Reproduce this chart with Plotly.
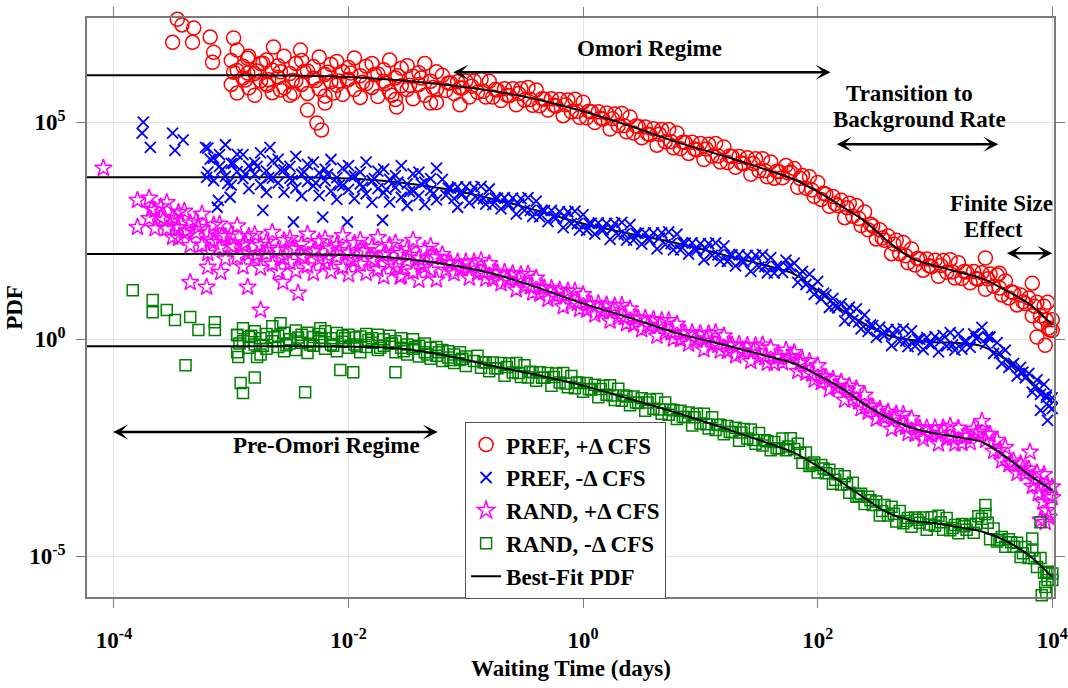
import plotly.graph_objects as go

SERIF = "Liberation Serif"

# decade exponents that carry tick labels
x_tick_exponents = [-4, -2, 0, 2, 4]
y_tick_exponents = [-5, 0, 5]

# best-fit PDFs: log10(waiting time, days) -> log10(PDF)
fit_logt = [-4.23, -3.0, -2.4, -2.0, -1.6, -1.2, -0.8, -0.4, 0.0, 0.4, 0.8, 1.2, 1.6,
            1.8, 2.0, 2.2, 2.4, 2.6, 2.8, 3.0, 3.2, 3.4, 3.6, 3.8, 4.0]
fit_pref_pos = [6.08, 6.08, 6.07, 6.04, 5.97, 5.87, 5.73, 5.53, 5.25, 4.91, 4.54, 4.22, 3.87,
                3.68, 3.40, 3.07, 2.72, 2.25, 1.87, 1.69, 1.55, 1.40, 1.13, 0.82, 0.33]
fit_pref_neg = [3.73, 3.73, 3.73, 3.70, 3.62, 3.47, 3.25, 2.97, 2.66, 2.43, 2.21, 1.94, 1.67,
                1.50, 1.12, 0.69, 0.35, 0.09, -0.02, -0.07, -0.09, -0.16, -0.46, -0.92, -1.47]
fit_rand_pos = [1.96, 1.96, 1.96, 1.94, 1.87, 1.74, 1.53, 1.20, 0.82, 0.49, 0.14, -0.13, -0.41,
                -0.56, -0.82, -1.12, -1.50, -1.81, -2.04, -2.17, -2.26, -2.37, -2.70, -3.12, -3.48]
fit_rand_neg = [-0.16, -0.16, -0.16, -0.17, -0.21, -0.36, -0.60, -0.82, -1.07, -1.38, -1.70, -2.05, -2.42,
                -2.62, -2.93, -3.29, -3.66, -4.00, -4.18, -4.24, -4.33, -4.43, -4.64, -4.98, -5.48]

# empirical PDFs, (log10 t, log10 PDF)
pref_pos_sparse = [
    (-3.52, 7.42), (-3.46, 7.37), (-3.42, 7.24), (-3.50, 6.84), (-3.33, 6.84), (-3.32, 7.17),
    (-3.18, 6.96), (-3.15, 6.61), (-3.16, 6.38), (-2.98, 6.94), (-2.95, 6.66), (-2.86, 6.47),
    (-2.86, 6.13), (-2.73, 6.36), (-2.69, 5.85), (-2.64, 6.73), (-2.58, 5.74), (-2.47, 5.67),
    (-2.41, 6.66), (-2.35, 5.28), (-2.27, 4.98), (-2.23, 4.82), (-2.20, 5.44), (-2.13, 5.67),
    (-2.01, 5.97), (-1.59, 5.35), (-1.63, 5.62), (-1.25, 5.45), (-1.05, 5.40),
    (3.43, 1.87), (3.55, 1.52), (3.83, 1.29), (3.96, 0.85), (3.87, 0.05), (3.94, -0.14),
    (3.98, 0.21), (3.90, 0.37),
]
pref_pos_band = [
    (-3.00, 6.42), (-3.00, 5.87), (-2.95, 5.67), (-2.95, 6.19), (-2.90, 6.29), (-2.90, 6.02),
    (-2.85, 5.79), (-2.85, 6.52), (-2.80, 6.12), (-2.80, 5.62), (-2.75, 5.95), (-2.75, 6.35),
    (-2.70, 6.43), (-2.70, 5.88), (-2.65, 5.68), (-2.65, 6.20), (-2.60, 6.30), (-2.60, 6.03),
    (-2.55, 5.79), (-2.55, 6.52), (-2.50, 6.12), (-2.50, 5.62), (-2.45, 5.95), (-2.45, 6.35),
    (-2.40, 6.42), (-2.40, 5.87), (-2.35, 5.66), (-2.35, 6.18), (-2.30, 6.28), (-2.30, 6.01),
    (-2.25, 5.77), (-2.25, 6.50), (-2.20, 6.10), (-2.20, 5.60), (-2.15, 5.93), (-2.15, 6.33),
    (-2.10, 6.40), (-2.10, 5.85), (-2.05, 5.64), (-2.05, 6.16), (-2.00, 6.26), (-2.00, 5.99),
    (-1.95, 5.75), (-1.95, 6.48), (-1.90, 6.07), (-1.90, 5.57), (-1.85, 5.89), (-1.85, 6.29),
    (-1.80, 6.35), (-1.80, 5.80), (-1.75, 5.59), (-1.75, 6.11), (-1.70, 6.21), (-1.70, 5.94),
    (-1.65, 5.70), (-1.65, 6.43), (-1.60, 6.02), (-1.60, 5.52), (-1.55, 5.84), (-1.55, 6.24),
    (-1.50, 6.30), (-1.50, 5.75), (-1.45, 5.54), (-1.45, 6.06), (-1.40, 6.14), (-1.40, 5.87),
    (-1.35, 5.62), (-1.35, 6.35), (-1.30, 5.94), (-1.30, 5.44), (-1.25, 5.76), (-1.25, 6.16),
    (-1.20, 6.08), (-1.17, 5.73), (-1.13, 5.90), (-1.10, 5.66), (-1.07, 5.93), (-1.03, 5.79),
    (-1.00, 5.95), (-0.97, 5.58), (-0.93, 5.95), (-0.90, 5.69), (-0.87, 5.99), (-0.83, 5.58),
    (-0.80, 5.94), (-0.77, 5.58), (-0.73, 5.74), (-0.70, 5.50), (-0.67, 5.77), (-0.63, 5.61),
    (-0.60, 5.77), (-0.57, 5.40), (-0.53, 5.77), (-0.50, 5.51), (-0.47, 5.80), (-0.43, 5.39),
    (-0.40, 5.74), (-0.37, 5.38), (-0.33, 5.53), (-0.30, 5.28), (-0.27, 5.54), (-0.23, 5.37),
    (-0.20, 5.52), (-0.17, 5.15), (-0.13, 5.51), (-0.10, 5.24), (-0.07, 5.53), (-0.03, 5.11),
    (0.00, 5.46), (0.03, 5.10), (0.07, 5.24), (0.10, 4.99), (0.13, 5.24), (0.17, 5.07),
    (0.20, 5.21), (0.23, 4.84), (0.27, 5.19), (0.30, 4.92), (0.33, 5.20), (0.37, 4.78),
    (0.40, 5.12), (0.43, 4.75), (0.47, 4.90), (0.50, 4.64), (0.53, 4.89), (0.57, 4.71),
    (0.60, 4.85), (0.63, 4.47), (0.67, 4.83), (0.70, 4.55), (0.73, 4.83), (0.77, 4.41),
    (0.80, 4.75), (0.83, 4.39), (0.87, 4.53), (0.90, 4.28), (0.93, 4.54), (0.97, 4.36),
    (1.00, 4.51), (1.03, 4.14), (1.07, 4.49), (1.10, 4.22), (1.13, 4.51), (1.17, 4.08),
    (1.20, 4.43), (1.23, 4.07), (1.27, 4.21), (1.30, 3.96), (1.33, 4.21), (1.37, 4.04),
    (1.40, 4.18), (1.43, 3.80), (1.47, 4.16), (1.50, 3.88), (1.53, 4.16), (1.57, 3.74),
    (1.60, 4.08), (1.63, 3.71), (1.67, 3.86), (1.70, 3.72), (1.73, 4.00), (1.77, 3.85),
    (1.80, 3.93), (1.83, 3.50), (1.87, 3.77), (1.90, 3.48), (1.93, 3.74), (1.97, 3.29),
    (2.00, 3.61), (2.03, 3.22), (2.07, 3.34), (2.10, 3.06), (2.13, 3.29), (2.17, 3.08),
    (2.20, 3.20), (2.23, 2.80), (2.27, 3.13), (2.30, 2.83), (2.33, 3.08), (2.37, 2.62),
    (2.40, 2.93), (2.43, 2.52), (2.47, 2.61), (2.50, 2.31), (2.53, 2.52), (2.57, 2.28),
    (2.60, 2.38), (2.63, 1.97), (2.67, 2.28), (2.70, 1.97), (2.73, 2.23), (2.77, 1.76),
    (2.80, 2.08), (2.83, 1.71), (2.87, 1.85), (2.90, 1.59), (2.93, 1.85), (2.97, 1.67),
    (3.00, 1.82), (3.03, 1.45), (3.07, 1.81), (3.10, 1.54), (3.13, 1.83), (3.17, 1.41),
    (3.20, 1.76), (3.23, 1.40), (3.27, 1.55), (3.30, 1.30), (3.33, 1.56), (3.37, 1.38),
    (3.40, 1.53), (3.43, 1.15), (3.47, 1.50), (3.50, 1.22), (3.53, 1.48), (3.57, 1.02),
    (3.60, 1.34), (3.63, 0.95), (3.67, 1.07), (3.70, 0.79), (3.73, 1.02), (3.77, 0.82),
    (3.80, 0.95), (3.83, 0.54), (3.87, 0.85), (3.90, 0.54), (3.93, 0.76), (3.97, 0.26),
    (4.00, 0.45), (4.00, 0.20),
]
pref_pos_core = [
    (-2.98, 6.15), (-2.88, 5.97), (-2.78, 6.18), (-2.68, 5.98), (-2.58, 6.16), (-2.48, 5.96),
    (-2.38, 6.17), (-2.28, 5.96), (-2.18, 6.15), (-2.08, 5.95), (-1.98, 6.13), (-1.88, 5.92),
    (-1.78, 6.10), (-1.68, 5.89), (-1.58, 6.07), (-1.48, 5.85), (-1.38, 6.02), (-1.28, 5.80),
    (-1.15, 5.90), (-1.05, 5.79), (-0.95, 5.83), (-0.85, 5.71), (-0.75, 5.75), (-0.65, 5.62),
    (-0.55, 5.66), (-0.45, 5.52), (-0.35, 5.54), (-0.25, 5.39), (-0.15, 5.40), (-0.05, 5.25),
    (0.05, 5.25), (0.15, 5.09), (0.25, 5.08), (0.35, 4.92), (0.45, 4.91), (0.55, 4.73),
    (0.65, 4.72), (0.75, 4.55), (0.85, 4.54), (0.95, 4.38), (1.05, 4.38), (1.15, 4.22),
    (1.25, 4.22), (1.35, 4.06), (1.45, 4.05), (1.55, 3.88), (1.65, 3.87), (1.75, 3.83),
    (1.85, 3.70), (1.95, 3.44), (2.05, 3.36), (2.15, 3.12), (2.25, 3.03), (2.35, 2.78),
    (2.45, 2.65), (2.55, 2.33), (2.65, 2.19), (2.75, 1.92), (2.85, 1.86), (2.95, 1.69),
    (3.05, 1.70), (3.15, 1.55), (3.25, 1.56), (3.35, 1.40), (3.45, 1.39), (3.55, 1.18),
    (3.65, 1.09), (3.75, 0.86), (3.85, 0.76), (3.95, 0.44),
]

pref_neg_sparse = [
    (-3.75, 5.00), (-3.76, 4.75), (-3.69, 4.42), (-3.50, 4.75), (-3.48, 4.35), (-3.41, 4.59),
    (-3.21, 3.73), (-3.03, 3.59), (-3.01, 3.27), (-3.11, 3.20), (-3.12, 3.04), (-2.73, 2.97),
    (-2.47, 2.70), (-2.22, 2.81), (-2.01, 2.70), (-1.71, 2.74), (-1.07, 3.04), (-2.67, 4.42),
    (-3.22, 4.42), (3.90, -1.64), (3.96, -1.87), (3.95, -1.34),
]
pref_neg_band = [
    (-3.20, 4.40), (-3.20, 3.85), (-3.15, 3.65), (-3.15, 4.17), (-3.10, 4.25), (-3.10, 3.98),
    (-3.05, 3.75), (-3.05, 4.48), (-3.00, 4.05), (-3.00, 3.55), (-2.95, 3.86), (-2.95, 4.26),
    (-2.90, 4.25), (-2.90, 3.70), (-2.85, 3.47), (-2.85, 3.99), (-2.80, 4.07), (-2.80, 3.80),
    (-2.75, 3.56), (-2.75, 4.29), (-2.70, 3.88), (-2.70, 3.38), (-2.65, 3.71), (-2.65, 4.11),
    (-2.60, 4.15), (-2.60, 3.60), (-2.55, 3.38), (-2.55, 3.90), (-2.50, 3.98), (-2.50, 3.71),
    (-2.45, 3.48), (-2.45, 4.21), (-2.40, 3.80), (-2.40, 3.30), (-2.35, 3.63), (-2.35, 4.03),
    (-2.30, 4.08), (-2.30, 3.53), (-2.25, 3.31), (-2.25, 3.83), (-2.20, 3.92), (-2.20, 3.65),
    (-2.15, 3.41), (-2.15, 4.14), (-2.10, 3.72), (-2.10, 3.22), (-2.05, 3.54), (-2.05, 3.94),
    (-2.00, 4.00), (-2.00, 3.45), (-1.95, 3.24), (-1.95, 3.76), (-1.90, 3.85), (-1.90, 3.58),
    (-1.85, 3.35), (-1.85, 4.08), (-1.80, 3.65), (-1.80, 3.15), (-1.75, 3.47), (-1.75, 3.87),
    (-1.70, 3.92), (-1.70, 3.37), (-1.65, 3.16), (-1.65, 3.68), (-1.60, 3.77), (-1.60, 3.50),
    (-1.55, 3.27), (-1.55, 4.00), (-1.50, 3.58), (-1.50, 3.08), (-1.45, 3.41), (-1.45, 3.81),
    (-1.40, 3.85), (-1.40, 3.30), (-1.35, 3.10), (-1.35, 3.62), (-1.30, 3.70), (-1.30, 3.43),
    (-1.25, 3.21), (-1.25, 3.94),
    (-1.20, 3.68), (-1.17, 3.32), (-1.13, 3.48), (-1.10, 3.24), (-1.07, 3.51), (-1.03, 3.35),
    (-1.00, 3.51), (-0.97, 3.14), (-0.93, 3.50), (-0.90, 3.23), (-0.87, 3.52), (-0.83, 3.11),
    (-0.80, 3.46), (-0.77, 3.10), (-0.73, 3.25), (-0.70, 3.00), (-0.67, 3.26), (-0.63, 3.10),
    (-0.60, 3.25), (-0.57, 2.88), (-0.53, 3.24), (-0.50, 2.97), (-0.47, 3.26), (-0.43, 2.83),
    (-0.40, 3.18), (-0.37, 2.82), (-0.33, 2.96), (-0.30, 2.71), (-0.27, 2.97), (-0.23, 2.79),
    (-0.20, 2.94), (-0.17, 2.57), (-0.13, 2.93), (-0.10, 2.66), (-0.07, 2.95), (-0.03, 2.52),
    (0.00, 2.87), (0.03, 2.51), (0.07, 2.67), (0.10, 2.42), (0.13, 2.68), (0.17, 2.52),
    (0.20, 2.67), (0.23, 2.30), (0.27, 2.67), (0.30, 2.40), (0.33, 2.69), (0.37, 2.28),
    (0.40, 2.64), (0.43, 2.28), (0.47, 2.44), (0.50, 2.19), (0.53, 2.45), (0.57, 2.29),
    (0.60, 2.45), (0.63, 2.08), (0.67, 2.45), (0.70, 2.18), (0.73, 2.47), (0.77, 2.06),
    (0.80, 2.42), (0.83, 2.06), (0.87, 2.21), (0.90, 1.96), (0.93, 2.22), (0.97, 2.05),
    (1.00, 2.20), (1.03, 1.83), (1.07, 2.20), (1.10, 1.93), (1.13, 2.22), (1.17, 1.80),
    (1.20, 2.15), (1.23, 1.79), (1.27, 1.94), (1.30, 1.69), (1.33, 1.95), (1.37, 1.78),
    (1.40, 1.93), (1.43, 1.56), (1.47, 1.93), (1.50, 1.66), (1.53, 1.95), (1.57, 1.53),
    (1.60, 1.88), (1.63, 1.52), (1.67, 1.67), (1.70, 1.54), (1.73, 1.82), (1.77, 1.67),
    (1.80, 1.75), (1.83, 1.31), (1.87, 1.56), (1.90, 1.26), (1.93, 1.50), (1.97, 1.03),
    (2.00, 1.33), (2.03, 0.93), (2.07, 1.02), (2.10, 0.73), (2.13, 0.94), (2.17, 0.72),
    (2.20, 0.82), (2.23, 0.42), (2.27, 0.74), (2.30, 0.44), (2.33, 0.70), (2.37, 0.24),
    (2.40, 0.56), (2.43, 0.18), (2.47, 0.31), (2.50, 0.04), (2.53, 0.28), (2.57, 0.09),
    (2.60, 0.22), (2.63, -0.15), (2.67, 0.22), (2.70, -0.05), (2.73, 0.24), (2.77, -0.17),
    (2.80, 0.19), (2.83, -0.16), (2.87, 0.00), (2.90, -0.24), (2.93, 0.04), (2.97, -0.11),
    (3.00, 0.06), (3.03, -0.29), (3.07, 0.09), (3.10, -0.16), (3.13, 0.15), (3.17, -0.25),
    (3.20, 0.12), (3.23, -0.23), (3.27, -0.05), (3.30, -0.19), (3.33, 0.12), (3.37, 0.06),
    (3.40, 0.27), (3.43, -0.11), (3.47, 0.05), (3.50, -0.33), (3.53, -0.08), (3.57, -0.56),
    (3.60, -0.25), (3.63, -0.65), (3.67, -0.56), (3.70, -0.85), (3.73, -0.65), (3.77, -0.89),
    (3.80, -0.79), (3.83, -1.22), (3.87, -0.94), (3.90, -1.27), (3.93, -1.04), (3.97, -1.55),
    (4.00, -1.35), (4.00, -1.60),
]
pref_neg_core = [
    (-3.18, 4.15), (-3.08, 3.90), (-2.98, 4.05), (-2.88, 3.80), (-2.78, 3.98), (-2.68, 3.72),
    (-2.58, 3.90), (-2.48, 3.65), (-2.38, 3.85), (-2.28, 3.60), (-2.18, 3.80), (-2.08, 3.55),
    (-1.98, 3.75), (-1.88, 3.50), (-1.78, 3.70), (-1.68, 3.45), (-1.58, 3.62), (-1.48, 3.40),
    (-1.38, 3.58), (-1.28, 3.35),
    (-1.15, 3.48), (-1.05, 3.36), (-0.95, 3.38), (-0.85, 3.24), (-0.75, 3.25), (-0.65, 3.11),
    (-0.55, 3.12), (-0.45, 2.97), (-0.35, 2.97), (-0.25, 2.81), (-0.15, 2.81), (-0.05, 2.66),
    (0.05, 2.67), (0.15, 2.53), (0.25, 2.55), (0.35, 2.42), (0.45, 2.44), (0.55, 2.31),
    (0.65, 2.33), (0.75, 2.20), (0.85, 2.22), (0.95, 2.07), (1.05, 2.08), (1.15, 1.94),
    (1.25, 1.95), (1.35, 1.80), (1.45, 1.81), (1.55, 1.67), (1.65, 1.68), (1.75, 1.65),
    (1.85, 1.50), (1.95, 1.19), (2.05, 1.06), (2.15, 0.76), (2.25, 0.65), (2.35, 0.40),
    (2.45, 0.33), (2.55, 0.12), (2.65, 0.10), (2.75, -0.04), (2.85, 0.00), (2.95, -0.10),
    (3.05, -0.04), (3.15, -0.13), (3.25, -0.06), (3.35, 0.02), (3.45, 0.05), (3.55, -0.32),
    (3.65, -0.61), (3.75, -0.76), (3.85, -1.10), (3.95, -1.29),
]

rand_pos_sparse = [
    (-4.09, 3.94), (-3.80, 3.20), (-3.80, 2.58), (-3.45, 2.33), (-3.35, 1.31), (-3.21, 1.20),
    (-3.20, 1.66), (-3.09, 1.54), (-2.86, 1.20), (-2.75, 0.67), (-2.56, 1.31), (-2.43, 1.06),
    (-1.56, 1.43), (3.81, -2.60), (3.88, -3.55), (3.92, -3.75), (3.95, -3.95), (3.97, -4.10),
    (3.94, -4.22), (3.90, -4.17),
]
rand_pos_band = [
    (-3.70, 3.25), (-3.70, 2.78), (-3.65, 2.55), (-3.65, 2.97), (-3.60, 3.05), (-3.60, 2.80),
    (-3.55, 2.55), (-3.55, 3.15), (-3.50, 2.80), (-3.50, 2.35), (-3.45, 2.57), (-3.45, 2.92),
    (-3.40, 2.95), (-3.40, 2.44), (-3.35, 2.16), (-3.35, 2.68), (-3.30, 2.72), (-3.30, 2.45),
    (-3.25, 2.17), (-3.25, 2.88), (-3.20, 2.45), (-3.20, 1.98), (-3.15, 2.23), (-3.15, 2.63),
    (-3.10, 2.65), (-3.10, 2.10), (-3.05, 1.85), (-3.05, 2.37), (-3.00, 2.42), (-3.00, 2.15),
    (-2.95, 1.89), (-2.95, 2.61), (-2.90, 2.17), (-2.90, 1.67), (-2.85, 1.97), (-2.85, 2.37),
    (-2.80, 2.41), (-2.80, 1.86), (-2.75, 1.64), (-2.75, 2.16), (-2.70, 2.24), (-2.70, 1.97),
    (-2.65, 1.73), (-2.65, 2.46), (-2.60, 2.05), (-2.60, 1.55), (-2.55, 1.87), (-2.55, 2.27),
    (-2.50, 2.32), (-2.50, 1.77), (-2.45, 1.57), (-2.45, 2.09), (-2.40, 2.19), (-2.40, 1.92),
    (-2.35, 1.69), (-2.35, 2.42), (-2.30, 2.02), (-2.30, 1.52), (-2.25, 1.85), (-2.25, 2.25),
    (-2.20, 2.31), (-2.20, 1.76), (-2.15, 1.56), (-2.15, 2.08), (-2.10, 2.17), (-2.10, 1.90),
    (-2.05, 1.66), (-2.05, 2.39), (-2.00, 1.99), (-2.00, 1.49), (-1.95, 1.81), (-1.95, 2.21),
    (-1.90, 2.28), (-1.90, 1.73), (-1.85, 1.52), (-1.85, 2.04), (-1.80, 2.12), (-1.80, 1.85),
    (-1.75, 1.61), (-1.75, 2.34), (-1.70, 1.94), (-1.70, 1.44), (-1.65, 1.76), (-1.65, 2.16),
    (-1.60, 2.22), (-1.60, 1.67), (-1.55, 1.46), (-1.55, 1.98), (-1.50, 2.07), (-1.50, 1.80),
    (-1.45, 1.55), (-1.45, 2.28), (-1.40, 1.86), (-1.40, 1.36), (-1.35, 1.67), (-1.35, 2.07),
    (-1.30, 2.14), (-1.30, 1.59), (-1.25, 1.37), (-1.25, 1.89),
    (-1.20, 1.95), (-1.17, 1.59), (-1.13, 1.75), (-1.10, 1.51), (-1.07, 1.78), (-1.03, 1.62),
    (-1.00, 1.78), (-0.97, 1.41), (-0.93, 1.78), (-0.90, 1.52), (-0.87, 1.81), (-0.83, 1.39),
    (-0.80, 1.74), (-0.77, 1.38), (-0.73, 1.53), (-0.70, 1.28), (-0.67, 1.54), (-0.63, 1.36),
    (-0.60, 1.51), (-0.57, 1.14), (-0.53, 1.49), (-0.50, 1.22), (-0.47, 1.50), (-0.43, 1.07),
    (-0.40, 1.41), (-0.37, 1.04), (-0.33, 1.18), (-0.30, 0.92), (-0.27, 1.17), (-0.23, 0.99),
    (-0.20, 1.13), (-0.17, 0.75), (-0.13, 1.11), (-0.10, 0.83), (-0.07, 1.11), (-0.03, 0.69),
    (0.00, 1.03), (0.03, 0.67), (0.07, 0.81), (0.10, 0.56), (0.13, 0.82), (0.17, 0.64),
    (0.20, 0.79), (0.23, 0.42), (0.27, 0.77), (0.30, 0.50), (0.33, 0.78), (0.37, 0.36),
    (0.40, 0.70), (0.43, 0.33), (0.47, 0.48), (0.50, 0.22), (0.53, 0.48), (0.57, 0.30),
    (0.60, 0.45), (0.63, 0.07), (0.67, 0.43), (0.70, 0.15), (0.73, 0.43), (0.77, 0.01),
    (0.80, 0.35), (0.83, -0.01), (0.87, 0.14), (0.90, -0.11), (0.93, 0.15), (0.97, -0.02),
    (1.00, 0.13), (1.03, -0.24), (1.07, 0.13), (1.10, -0.14), (1.13, 0.15), (1.17, -0.27),
    (1.20, 0.08), (1.23, -0.28), (1.27, -0.13), (1.30, -0.38), (1.33, -0.12), (1.37, -0.29),
    (1.40, -0.14), (1.43, -0.51), (1.47, -0.15), (1.50, -0.42), (1.53, -0.13), (1.57, -0.55),
    (1.60, -0.20), (1.63, -0.56), (1.67, -0.41), (1.70, -0.54), (1.73, -0.25), (1.77, -0.40),
    (1.80, -0.31), (1.83, -0.74), (1.87, -0.49), (1.90, -0.78), (1.93, -0.51), (1.97, -0.94),
    (2.00, -0.61), (2.03, -1.00), (2.07, -0.88), (2.10, -1.16), (2.13, -0.92), (2.17, -1.12),
    (2.20, -0.99), (2.23, -1.40), (2.27, -1.08), (2.30, -1.39), (2.33, -1.14), (2.37, -1.60),
    (2.40, -1.29), (2.43, -1.68), (2.47, -1.56), (2.50, -1.84), (2.53, -1.61), (2.57, -1.81),
    (2.60, -1.68), (2.63, -2.07), (2.67, -1.72), (2.70, -2.01), (2.73, -1.73), (2.77, -2.17),
    (2.80, -1.83), (2.83, -2.19), (2.87, -2.05), (2.90, -2.30), (2.93, -2.04), (2.97, -2.20),
    (3.00, -2.04), (3.03, -2.41), (3.07, -2.04), (3.10, -2.30), (3.13, -2.00), (3.17, -2.41),
    (3.20, -2.05), (3.23, -2.40), (3.27, -2.24), (3.30, -2.38), (3.33, -2.07), (3.37, -2.14),
    (3.40, -1.89), (3.43, -2.33), (3.47, -2.19), (3.50, -2.58), (3.53, -2.33), (3.57, -2.80),
    (3.60, -2.49), (3.63, -2.89), (3.67, -2.80), (3.70, -3.09), (3.73, -2.87), (3.77, -3.10),
    (3.80, -2.99), (3.83, -3.39), (3.87, -3.08), (3.90, -3.38), (3.93, -3.12), (3.97, -3.59),
    (4.00, -3.40), (4.00, -3.65),
]
rand_pos_core = [
    (-3.68, 3.00), (-3.58, 2.75), (-3.48, 2.78), (-3.38, 2.50), (-3.28, 2.58), (-3.18, 2.30),
    (-3.08, 2.38), (-2.98, 2.12), (-2.88, 2.22), (-2.78, 1.95), (-2.68, 2.10), (-2.58, 1.88),
    (-2.48, 2.07), (-2.38, 1.87), (-2.28, 2.06), (-2.18, 1.86), (-2.08, 2.04), (-1.98, 1.84),
    (-1.88, 2.02), (-1.78, 1.80), (-1.68, 1.98), (-1.58, 1.77), (-1.48, 1.94), (-1.38, 1.72),
    (-1.28, 1.88),
    (-1.15, 1.76), (-1.05, 1.63), (-0.95, 1.67), (-0.85, 1.53), (-0.75, 1.54), (-0.65, 1.38),
    (-0.55, 1.38), (-0.45, 1.21), (-0.35, 1.19), (-0.25, 1.01), (-0.15, 1.00), (-0.05, 0.83),
    (0.05, 0.82), (0.15, 0.66), (0.25, 0.66), (0.35, 0.50), (0.45, 0.49), (0.55, 0.32),
    (0.65, 0.32), (0.75, 0.15), (0.85, 0.15), (0.95, 0.00), (1.05, 0.01), (1.15, -0.14),
    (1.25, -0.13), (1.35, -0.28), (1.45, -0.27), (1.55, -0.42), (1.65, -0.41), (1.75, -0.42),
    (1.85, -0.55), (1.95, -0.80), (2.05, -0.86), (2.15, -1.09), (2.25, -1.18), (2.35, -1.45),
    (2.45, -1.54), (2.55, -1.78), (2.65, -1.83), (2.75, -2.03), (2.85, -2.04), (2.95, -2.19),
    (3.05, -2.16), (3.15, -2.28), (3.25, -2.24), (3.35, -2.19), (3.45, -2.19), (3.55, -2.56),
    (3.65, -2.85), (3.75, -2.98), (3.85, -3.25), (3.95, -3.35),
]

rand_neg_sparse = [
    (-3.84, 1.13), (-3.67, 0.90), (-3.67, 0.62), (-3.55, 0.67), (-3.48, 0.44), (-3.35, 0.51),
    (-3.28, 0.21), (-3.14, 0.39), (-3.14, 0.21), (-3.39, -0.60), (-2.95, 0.09), (-2.94, -0.41),
    (-2.92, -1.01), (-2.90, -1.24), (-2.80, -0.88), (-2.78, -0.41), (-2.37, -1.22), (-2.58, 0.37),
    (-2.24, 0.25), (-2.07, -0.71), (-1.96, -0.76), (-1.60, -0.76),
    (3.43, -3.82), (3.83, -4.59), (3.90, -4.22), (3.91, -5.90), (3.95, -5.85), (3.96, -5.55),
    (3.94, -5.71),
]
rand_neg_band = [
    (-2.95, 0.10), (-2.95, -0.30), (-2.90, -0.05), (-2.90, 0.25), (-2.85, -0.20), (-2.85, 0.05),
    (-2.80, 0.18), (-2.80, -0.12), (-2.75, -0.35), (-2.75, 0.02), (-2.70, 0.12), (-2.70, -0.22),
    (-2.65, -0.05), (-2.65, 0.30), (-2.60, 0.08), (-2.60, -0.18), (-2.55, -0.28), (-2.55, 0.15),
    (-2.50, 0.00), (-2.50, -0.10), (-2.45, 0.20), (-2.45, -0.25), (-2.40, -0.08), (-2.40, 0.10),
    (-2.35, 0.15), (-2.35, -0.32), (-2.30, -0.15), (-2.30, 0.05), (-2.25, 0.12), (-2.25, -0.05),
    (-2.20, -0.22), (-2.20, 0.18), (-2.15, 0.02), (-2.15, -0.12), (-2.10, 0.14), (-2.10, -0.28),
    (-2.05, -0.06), (-2.05, 0.08), (-2.00, 0.10), (-2.00, -0.20), (-1.95, -0.12), (-1.95, 0.04),
    (-1.90, 0.06), (-1.90, -0.30), (-1.85, -0.18), (-1.85, 0.12), (-1.80, 0.02), (-1.80, -0.08),
    (-1.75, -0.25), (-1.75, 0.10), (-1.70, 0.00), (-1.70, -0.15), (-1.65, -0.10), (-1.65, 0.08),
    (-1.60, -0.30), (-1.60, -0.05), (-1.55, 0.02), (-1.55, -0.20), (-1.50, -0.12), (-1.50, -0.35),
    (-1.45, -0.22), (-1.45, 0.00), (-1.40, -0.15), (-1.40, -0.40), (-1.35, -0.30), (-1.35, -0.10),
    (-1.30, -0.20), (-1.30, -0.45), (-1.25, -0.38), (-1.25, -0.18), (-1.20, -0.25), (-1.20, -0.50),
    (-1.15, -0.42), (-1.15, -0.28), (-1.10, -0.35), (-1.10, -0.55), (-1.05, -0.48), (-1.05, -0.30),
    (-1.00, -0.40), (-1.00, -0.62),
    (-0.90, -0.38), (-0.87, -0.66), (-0.83, -0.54), (-0.80, -0.74), (-0.77, -0.54), (-0.73, -0.67),
    (-0.70, -0.55), (-0.67, -0.84), (-0.63, -0.56), (-0.60, -0.77), (-0.57, -0.55), (-0.53, -0.87),
    (-0.50, -0.60), (-0.47, -0.88), (-0.43, -0.76), (-0.40, -0.96), (-0.37, -0.76), (-0.33, -0.89),
    (-0.30, -0.78), (-0.27, -1.07), (-0.23, -0.79), (-0.20, -1.00), (-0.17, -0.78), (-0.13, -1.11),
    (-0.10, -0.85), (-0.07, -1.13), (-0.03, -1.01), (0.00, -1.21), (0.03, -1.01), (0.07, -1.16),
    (0.10, -1.05), (0.13, -1.34), (0.17, -1.07), (0.20, -1.28), (0.23, -1.06), (0.27, -1.40),
    (0.30, -1.14), (0.33, -1.42), (0.37, -1.32), (0.40, -1.52), (0.43, -1.32), (0.47, -1.47),
    (0.50, -1.36), (0.53, -1.65), (0.57, -1.39), (0.60, -1.60), (0.63, -1.38), (0.67, -1.72),
    (0.70, -1.46), (0.73, -1.74), (0.77, -1.64), (0.80, -1.84), (0.83, -1.65), (0.87, -1.79),
    (0.90, -1.69), (0.93, -1.99), (0.97, -1.72), (1.00, -1.94), (1.03, -1.72), (1.07, -2.06),
    (1.10, -1.80), (1.13, -2.09), (1.17, -1.98), (1.20, -2.19), (1.23, -2.00), (1.27, -2.14),
    (1.30, -2.04), (1.33, -2.34), (1.37, -2.07), (1.40, -2.29), (1.43, -2.08), (1.47, -2.41),
    (1.50, -2.16), (1.53, -2.45), (1.57, -2.35), (1.60, -2.56), (1.63, -2.37), (1.67, -2.51),
    (1.70, -2.29), (1.73, -2.56), (1.77, -2.28), (1.80, -2.53), (1.83, -2.41), (1.87, -2.85),
    (1.90, -2.61), (1.93, -2.92), (1.97, -2.84), (2.00, -3.07), (2.03, -2.90), (2.07, -3.09),
    (2.10, -3.01), (2.13, -3.33), (2.17, -3.11), (2.20, -3.35), (2.23, -3.16), (2.27, -3.54),
    (2.30, -3.31), (2.33, -3.63), (2.37, -3.56), (2.40, -3.80), (2.43, -3.63), (2.47, -3.82),
    (2.50, -3.74), (2.53, -4.06), (2.57, -3.82), (2.60, -4.06), (2.63, -3.86), (2.67, -4.20),
    (2.70, -3.96), (2.73, -4.24), (2.77, -4.12), (2.80, -4.32), (2.83, -4.11), (2.87, -4.23),
    (2.90, -4.11), (2.93, -4.39), (2.97, -4.10), (3.00, -4.30), (3.03, -4.07), (3.07, -4.39),
    (3.10, -4.12), (3.13, -4.40), (3.17, -4.28), (3.20, -4.47), (3.23, -4.26), (3.27, -4.39),
    (3.30, -4.27), (3.33, -4.46), (3.37, -4.08), (3.40, -4.14), (3.43, -4.03), (3.47, -4.61),
    (3.50, -4.36), (3.53, -4.66), (3.57, -4.56), (3.60, -4.78), (3.63, -4.61), (3.67, -4.78),
    (3.70, -4.69), (3.73, -5.02), (3.77, -4.79), (3.80, -5.04), (3.83, -4.87), (3.87, -5.25),
    (3.90, -5.04), (3.93, -5.38), (3.97, -5.36), (4.00, -5.55), (4.00, -5.40),
]
rand_neg_core = [
    (-2.93, -0.10), (-2.83, 0.08), (-2.73, -0.15), (-2.63, 0.05), (-2.53, -0.14), (-2.43, 0.04),
    (-2.33, -0.12), (-2.23, 0.03), (-2.13, -0.15), (-2.03, 0.02), (-1.93, -0.16), (-1.83, -0.02),
    (-1.73, -0.20), (-1.63, -0.10), (-1.53, -0.28), (-1.43, -0.18), (-1.33, -0.35), (-1.23, -0.30),
    (-1.13, -0.48), (-1.03, -0.45), (-0.93, -0.50),
    (-0.85, -0.53), (-0.75, -0.67), (-0.65, -0.64), (-0.55, -0.78), (-0.45, -0.75), (-0.35, -0.89),
    (-0.25, -0.87), (-0.15, -1.02), (-0.05, -1.00), (0.05, -1.15), (0.15, -1.15), (0.25, -1.30),
    (0.35, -1.30), (0.45, -1.46), (0.55, -1.46), (0.65, -1.62), (0.75, -1.62), (0.85, -1.79),
    (0.95, -1.80), (1.05, -1.96), (1.15, -1.97), (1.25, -2.14), (1.35, -2.15), (1.45, -2.32),
    (1.55, -2.33), (1.65, -2.51), (1.75, -2.47), (1.85, -2.62), (1.95, -2.89), (2.05, -2.98),
    (2.15, -3.24), (2.25, -3.34), (2.35, -3.61), (2.45, -3.71), (2.55, -3.96), (2.65, -4.02),
    (2.75, -4.19), (2.85, -4.16), (2.95, -4.27), (3.05, -4.22), (3.15, -4.35), (3.25, -4.31),
    (3.35, -4.25), (3.45, -4.23), (3.55, -4.62), (3.65, -4.68), (3.75, -4.93), (3.85, -5.05),
    (3.95, -5.38),
]

# regime annotations: (label, log10 t centre, log10 PDF centre)
regime_labels = [
    ("Omori Regime", 0.57, 6.70),
    ("Transition to", 2.78, 5.66),
    ("Background Rate", 2.87, 5.06),
    ("Finite Size", 3.57, 3.13),
    ("Effect", 3.50, 2.53),
    ("Pre-Omori Regime", -2.19, -2.44),
]
# regime spans: (log10 t start, log10 t end, log10 PDF level)
regime_spans = [
    (-1.12, 2.11, 6.15),
    (2.15, 3.54, 4.49),
    (3.60, 4.00, 1.98),
    (-4.02, -1.24, -2.14),
]


def unlog(points):
    return [10 ** t for t, _ in points], [10 ** p for _, p in points]


def fit_trace(values, name=None):
    return go.Scatter(
        x=[10 ** t for t in fit_logt], y=[10 ** p for p in values],
        mode="lines", line=dict(color="black", width=2, shape="spline", smoothing=1.0),
        name=name or "fit", showlegend=name is not None, legendgroup=name or "fit",
        hoverinfo="skip",
    )


def marker_trace(points, name, symbol, color, size, lw):
    xs, ys = unlog(points)
    return go.Scatter(
        x=xs, y=ys, mode="markers", name=name, legendgroup=name,
        marker=dict(symbol=symbol, size=size, color=color, line=dict(color=color, width=lw)),
        cliponaxis=False,
    )


fig = go.Figure()
fig.add_trace(fit_trace(fit_pref_neg))
fig.add_trace(marker_trace(pref_pos_sparse + pref_pos_band + pref_pos_core,
                           "PREF, +Δ CFS", "circle-open", "#ff0000", 14, 1.5))
fig.add_trace(marker_trace(pref_neg_sparse + pref_neg_band + pref_neg_core,
                           "PREF, -Δ CFS", "x-thin-open", "#0000ff", 11, 1.8))
fig.add_trace(marker_trace(rand_pos_sparse + rand_pos_band + rand_pos_core,
                           "RAND, +Δ CFS", "star-open", "#ff00ff", 13, 1.5))
fig.add_trace(marker_trace(rand_neg_sparse + rand_neg_band + rand_neg_core,
                           "RAND, -Δ CFS", "square-open", "#008000", 11, 1.5))
fig.add_trace(fit_trace(fit_pref_pos, "Best-Fit PDF"))
fig.add_trace(fit_trace(fit_rand_pos))
fig.add_trace(fit_trace(fit_rand_neg))

bold = dict(family=SERIF, size=23, color="black", weight="bold")

annotations = []
for text, t, p in regime_labels:
    annotations.append(dict(x=t, y=p, xref="x", yref="y", text=text, showarrow=False,
                            font=bold, xanchor="center", yanchor="middle"))
for t0, t1, p in regime_spans:
    annotations.append(dict(x=t1, y=p, ax=t0, ay=p, xref="x", yref="y", axref="x", ayref="y",
                            text="", showarrow=True, arrowside="end+start",
                            arrowhead=3, startarrowhead=3, arrowsize=1.0, startarrowsize=1.0,
                            arrowwidth=2.5, arrowcolor="black", standoff=0, startstandoff=0))
# horizontal axis title
annotations.append(dict(x=0.5, y=-0.123, xref="paper", yref="paper", text="Waiting Time (days)",
                        showarrow=False, font=bold, xanchor="center", yanchor="middle"))

axis_common = dict(
    type="log", showgrid=True, gridcolor="#e4e4e4", gridwidth=1, zeroline=False,
    showline=True, linecolor="#7a7a7a", linewidth=1.5, mirror="ticks",
    ticks="outside", ticklen=9, tickwidth=1.3, tickcolor="#7a7a7a",
    tickfont=bold, automargin=False,
)

fig.update_layout(
    width=1068, height=688,
    margin=dict(l=87, r=14, t=18, b=91, autoexpand=False),
    paper_bgcolor="white", plot_bgcolor="white",
    font=bold,
    xaxis=dict(axis_common, range=[-4.23, 4.015],
               tickvals=[10 ** e for e in x_tick_exponents],
               ticktext=[f"10<sup>{e}</sup>" for e in x_tick_exponents],
               ticklabelstandoff=13),
    yaxis=dict(axis_common, range=[-5.94, 7.40],
               tickvals=[10 ** e for e in y_tick_exponents],
               ticktext=[f"10<sup>{e}</sup>" for e in y_tick_exponents],
               ticklabelstandoff=6,
               title=dict(text="PDF", font=bold, standoff=0)),
    legend=dict(x=0.391, y=0.302, xanchor="left", yanchor="top",
                bordercolor="#555555", borderwidth=1, bgcolor="white",
                font=bold, tracegroupgap=0, traceorder="grouped"),
    annotations=annotations,
)

fig.write_html("out.html", include_plotlyjs=True)
